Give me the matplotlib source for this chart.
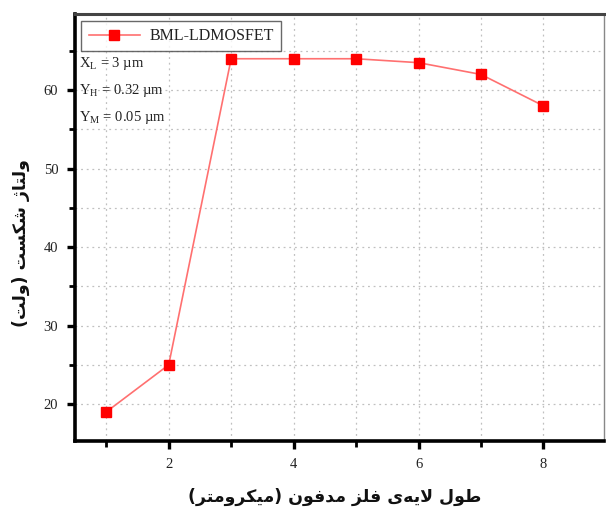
import matplotlib
matplotlib.use("Agg")
import matplotlib.pyplot as plt
from matplotlib.ticker import MultipleLocator
from matplotlib.lines import Line2D

# data
metal_length = [1, 2, 3, 4, 5, 6, 7, 8]
breakdown_v = [19, 25, 64, 64, 64, 63.5, 62, 58]
x_ticks = [2, 4, 6, 8]
y_ticks = [20, 30, 40, 50, 60]
series_name = "BML-LDMOSFET"
params = [r"X$_{\rm L}$ = 3 µm", r"Y$_{\rm H}$ = 0.32 µm", r"Y$_{\rm M}$ = 0.05 µm"]
x_title = "طول لایه\u200cی فلز مدفون (میکرومتر)"
y_title = "ولتاژ شکست (ولت)"

# --- minimal Persian shaping (contextual forms + visual order) ---
FORMS = {  # isolated, final, initial, medial
    "ا": ("\uFE8D", "\uFE8E", None, None),
    "ت": ("\uFE95", "\uFE96", "\uFE97", "\uFE98"),
    "د": ("\uFEA9", "\uFEAA", None, None),
    "ر": ("\uFEAD", "\uFEAE", None, None),
    "ز": ("\uFEAF", "\uFEB0", None, None),
    "ژ": ("\uFB8A", "\uFB8B", None, None),
    "س": ("\uFEB1", "\uFEB2", "\uFEB3", "\uFEB4"),
    "ش": ("\uFEB5", "\uFEB6", "\uFEB7", "\uFEB8"),
    "ط": ("\uFEC1", "\uFEC2", "\uFEC3", "\uFEC4"),
    "ف": ("\uFED1", "\uFED2", "\uFED3", "\uFED4"),
    "ک": ("\uFB8E", "\uFB8F", "\uFB90", "\uFB91"),
    "ل": ("\uFEDD", "\uFEDE", "\uFEDF", "\uFEE0"),
    "م": ("\uFEE1", "\uFEE2", "\uFEE3", "\uFEE4"),
    "ن": ("\uFEE5", "\uFEE6", "\uFEE7", "\uFEE8"),
    "ه": ("\uFEE9", "\uFEEA", "\uFEEB", "\uFEEC"),
    "و": ("\uFEED", "\uFEEE", None, None),
    "ی": ("\uFBFC", "\uFBFD", "\uFBFE", "\uFBFF"),
}


def dual(c):
    return c in FORMS and FORMS[c][2] is not None


def shape(text):
    out = []
    chars = list(text)
    i = 0
    n = len(chars)
    while i < n:
        c = chars[i]
        if c not in FORMS:
            if c != "\u200c":
                out.append(c)
            i += 1
            continue
        prev = chars[i - 1] if i > 0 else ""
        jp = dual(prev)
        if c == "ل" and i + 1 < n and chars[i + 1] == "ا":
            out.append("\uFEFC" if jp else "\uFEFB")
            i += 2
            continue
        nxt = chars[i + 1] if i + 1 < n else ""
        jn = dual(c) and nxt in FORMS
        iso, fin, ini, med = FORMS[c]
        if jp and jn:
            out.append(med)
        elif jp:
            out.append(fin)
        elif jn:
            out.append(ini)
        else:
            out.append(iso)
        i += 1
    mirror = {"(": ")", ")": "("}
    return "".join(mirror.get(ch, ch) for ch in reversed(out))


plt.rcParams["font.family"] = ["Liberation Serif", "DejaVu Sans"]
plt.rcParams["mathtext.fontset"] = "custom"
plt.rcParams["mathtext.rm"] = "Liberation Serif"

fig = plt.figure(figsize=(6.06, 5.13), dpi=100)
ax = fig.add_axes([0.1238, 0.1404, 0.8729, 0.8323])

line_col = "#ff7070"
ax.plot(metal_length, breakdown_v, color=line_col, lw=1.2, zorder=3)
ax.plot(metal_length, breakdown_v, ls="none", marker="s", ms=6.5,
        color="#ff0000", mec="#ff0000", zorder=4)

ax.set_xlim(0.5, 8.97)
ax.set_ylim(15.3, 69.7)
ax.set_xticks(x_ticks)
ax.set_yticks(y_ticks)
ax.xaxis.set_minor_locator(MultipleLocator(1))
ax.yaxis.set_minor_locator(MultipleLocator(5))

ax.grid(True, which="both", ls=(0, (1.5, 3.0)), color="#c0c0c0", lw=0.9)
ax.set_axisbelow(True)

for side, lw, col in (("left", 2.6, "black"), ("bottom", 2.6, "black"),
                      ("top", 2.2, "#444444"), ("right", 1.0, "#888888")):
    ax.spines[side].set_linewidth(lw)
    ax.spines[side].set_color(col)

ax.tick_params(which="major", direction="out", length=6, width=2.4,
               labelsize=10.5, pad=6, colors="black")
ax.tick_params(which="minor", direction="out", length=4, width=2.0)
ax.tick_params(axis="both", which="both", top=False, right=False)
for lab in ax.get_xticklabels() + ax.get_yticklabels():
    lab.set_color("#222222")

handle = Line2D([], [], color=line_col, lw=1.2, marker="s", ms=6.5,
                mfc="#ff0000", mec="#ff0000")
leg = ax.legend([handle], [series_name], loc="upper left",
                bbox_to_anchor=(0.003, 0.995), frameon=True, fancybox=False,
                edgecolor="#444444", fontsize=11.5, handlelength=3.2,
                borderpad=0.45, handletextpad=0.6, borderaxespad=0.3)
leg.get_frame().set_linewidth(1.0)
for t in leg.get_texts():
    t.set_color("#222222")

for k, t in enumerate(params):
    ax.text(0.007, 0.885 - k * 0.064, t, transform=ax.transAxes,
            fontsize=10.5, ha="left", va="center", color="#222222")

fig.text(0.553, 0.031, shape(x_title), ha="center", va="center",
         fontsize=12.5, family="DejaVu Sans", fontweight="bold",
         color="#111111")
fig.text(0.034, 0.527, shape(y_title), ha="center", va="center",
         rotation=90, fontsize=12.5, family="DejaVu Sans",
         fontweight="bold", color="#111111")

fig.savefig("out.png", dpi=100)
